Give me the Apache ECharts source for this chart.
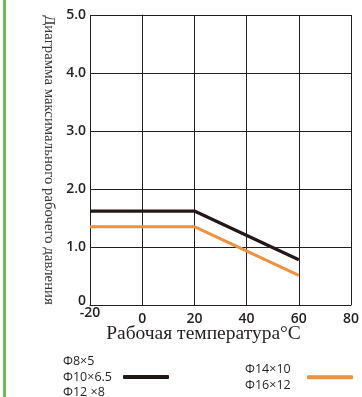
<!DOCTYPE html>
<html>
<head>
<meta charset="utf-8">
<script src="https://cdn.jsdelivr.net/npm/echarts@6/dist/echarts.min.js"></script>
<style>
  html, body { margin: 0; padding: 0; background: #fff; }
  #chart { width: 362px; height: 397px; }
</style>
</head>
<body>
<div id="chart"></div>
<script>
// Working temperature (°C) at the break points of each pressure curve
const temperatures = [-20, 20, 60];
// Max working pressure for the smaller tube sizes
const pressureSmall = [1.62, 1.62, 0.78];
// Max working pressure for the larger tube sizes
const pressureLarge = [1.35, 1.35, 0.51];
const sizesSmall = ['Φ8×5', 'Φ10×6.5', 'Φ12 ×8'];
const sizesLarge = ['Φ14×10', 'Φ16×12'];
const xTicks = [-20, 0, 20, 40, 60, 80];
const yTicks = [0, 1, 2, 3, 4, 5];

const ink = '#231f20';
const toPairs = (xs, ys) => xs.map((x, i) => [x, ys[i]]);
const nameSmall = sizesSmall.join('\n');
const nameLarge = sizesLarge.join('\n');
// each line of a legend label sits in a fixed-width, left-aligned box
const legendLabel = name => name.split('\n').map(s => '{t|' + s + '}').join('\n');

const legendBase = (name, left, top, boxWidth) => ({
  data: [name],
  left: left, top: top, padding: 0,
  align: 'right',
  icon: 'roundRect', itemWidth: 46, itemHeight: 4,
  formatter: legendLabel,
  textStyle: {
    fontFamily: 'Open Sans', fontSize: 12.5, color: ink, padding: [0, 5, 0, 0],
    rich: { t: { width: boxWidth, align: 'left', lineHeight: 15.5, fontFamily: 'Open Sans', fontSize: 12.5, color: ink } }
  }
});

const chart = echarts.init(document.getElementById('chart'));
chart.setOption({
  animation: false,
  backgroundColor: '#ffffff',
  graphic: [{
    type: 'rect',
    shape: { x: 3, y: 0, width: 3, height: 397 },
    style: { fill: '#6cbf4d' }
  }],
  grid: { left: 90, top: 15, right: 4, bottom: 92 },
  xAxis: {
    type: 'value',
    min: xTicks[0],
    max: xTicks[xTicks.length - 1],
    interval: 20,
    name: 'Рабочая температура°C',
    nameLocation: 'middle',
    nameGap: 19,
    nameMoveOverlap: false,
    nameTextStyle: {
      fontFamily: 'Liberation Serif', fontSize: 19.5, color: ink,
      padding: [0, 34, 0, 0]
    },
    axisLine: { show: true, lineStyle: { color: ink, width: 1 } },
    axisTick: { show: false },
    axisLabel: {
      margin: 1,
      fontFamily: 'Open Sans', fontSize: 14, fontWeight: 600, color: ink,
      formatter: v => v === xTicks[0] ? String(v) : '{s|}\n' + v,
      rich: { s: { lineHeight: 6, fontSize: 1 } }
    },
    splitLine: { show: true, lineStyle: { color: ink, width: 1 } }
  },
  yAxis: {
    type: 'value',
    min: yTicks[0],
    max: yTicks[yTicks.length - 1],
    interval: 1,
    name: 'Диаграмма максимального рабочего давления',
    nameLocation: 'middle',
    nameRotate: -90,
    nameGap: 34,
    nameMoveOverlap: false,
    nameTextStyle: { fontFamily: 'Liberation Serif', fontSize: 14.8, color: '#3a3536' },
    axisLine: { show: true, lineStyle: { color: ink, width: 1 } },
    axisTick: { show: false },
    axisLabel: {
      margin: 4,
      fontFamily: 'Open Sans', fontSize: 14, fontWeight: 600, color: ink,
      formatter: v => v === 0 ? '{z|0}' : v.toFixed(1),
      rich: { z: { padding: [0, 0, 8, 0], fontFamily: 'Open Sans', fontSize: 14, fontWeight: 600, color: ink } }
    },
    splitLine: { show: true, lineStyle: { color: ink, width: 1 } }
  },
  legend: [
    legendBase(nameSmall, 63, 355, 50),
    legendBase(nameLarge, 245, 363, 52)
  ],
  series: [{
    name: nameSmall,
    type: 'line',
    data: toPairs(temperatures, pressureSmall),
    symbol: 'none',
    color: '#231815',
    lineStyle: { width: 3.2, color: '#231815' }
  }, {
    name: nameLarge,
    type: 'line',
    data: toPairs(temperatures, pressureLarge),
    symbol: 'none',
    color: '#f0913e',
    lineStyle: { width: 3, color: '#f0913e' }
  }]
});
</script>
</body>
</html>
